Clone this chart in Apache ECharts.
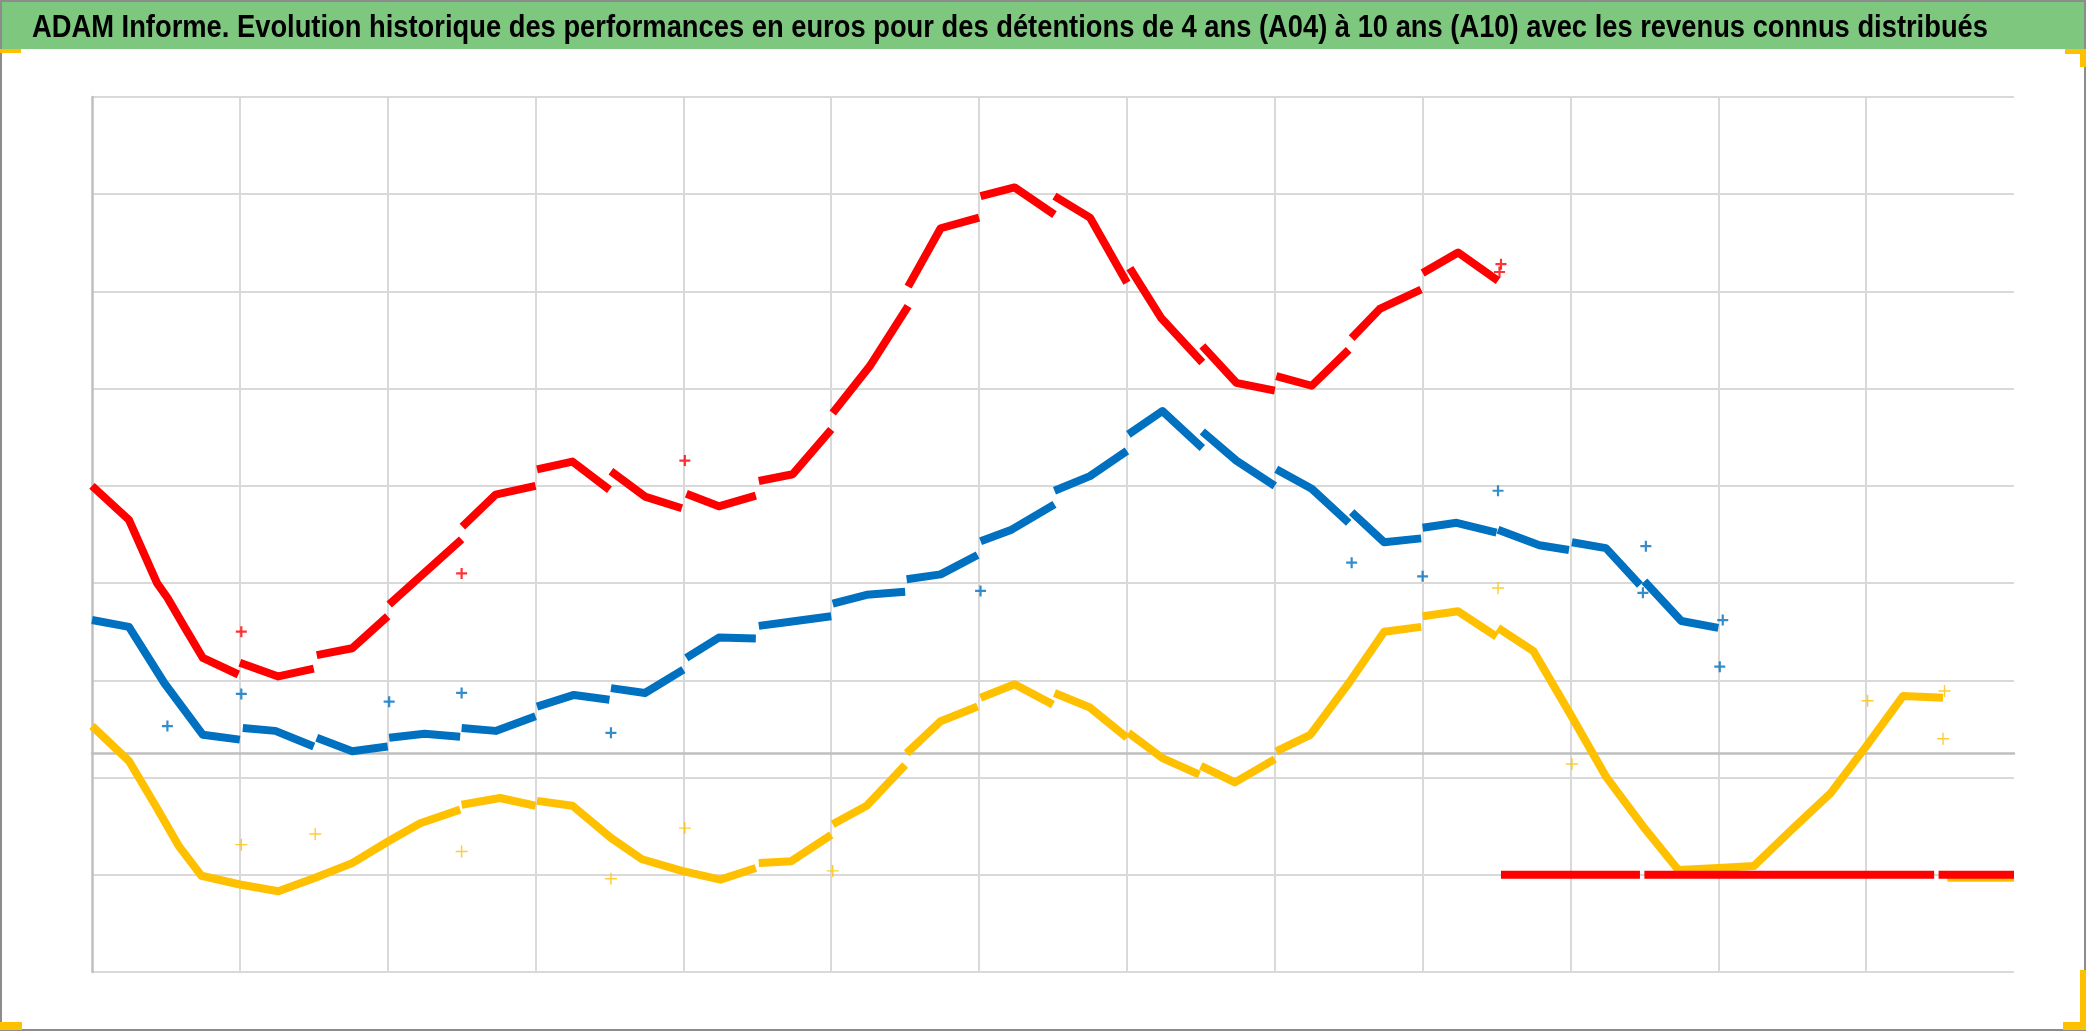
<!DOCTYPE html>
<html><head><meta charset="utf-8">
<script src="https://cdn.jsdelivr.net/npm/echarts@6/dist/echarts.min.js"></script>
<style>html,body{margin:0;padding:0;background:#fff;overflow:hidden}#c{width:2086px;height:1031px}</style>
</head><body><div id="c"></div>
<script>
const titleText = "ADAM Informe. Evolution historique des performances en euros pour des détentions de 4 ans (A04) à 10 ans (A10) avec les revenus connus distribués";
const seriesNames = ["A04", "A07", "A10"];

// Axis ranges (no tick labels are shown on the original)
const xMin = 0, xMax = 13, xStep = 1;
const yMin = -2.25, yMax = 6.75, yStep = 1;

// Red series (A04): segments of the dense "+" band
const redSegments = [
  [[0,2.75],[0.25,2.40],[0.44,1.75],[0.51,1.60],[0.625,1.30],[0.75,0.98],[0.99,0.81]],
  [[1.0,0.93],[1.26,0.79],[1.5,0.87]],
  [[1.52,1.01],[1.76,1.08],[2.0,1.41]],
  [[2.01,1.53],[2.5,2.20]],
  [[2.505,2.33],[2.73,2.66],[3.0,2.75]],
  [[3.01,2.92],[3.25,3.0],[3.5,2.71]],
  [[3.51,2.90],[3.74,2.64],[3.99,2.52]],
  [[4.02,2.67],[4.24,2.54],[4.49,2.65]],
  [[4.51,2.80],[4.74,2.87],[5.0,3.33]],
  [[5.01,3.50],[5.26,3.98],[5.52,4.60]],
  [[5.52,4.80],[5.74,5.40],[6.0,5.51]],
  [[6.01,5.73],[6.24,5.82],[6.51,5.54]],
  [[6.51,5.73],[6.75,5.51],[7.0,4.84]],
  [[7.02,4.99],[7.23,4.48],[7.51,4.02]],
  [[7.51,4.19],[7.74,3.81],[8.0,3.73]],
  [[8.01,3.88],[8.25,3.78],[8.50,4.15]],
  [[8.52,4.27],[8.71,4.57],[8.99,4.77]],
  [[9.0,4.94],[9.24,5.15],[9.51,4.86]],
  [[9.53,-1.25],[10.47,-1.25]],
  [[10.50,-1.25],[12.46,-1.25]],
  [[12.49,-1.25],[13.0,-1.25]]
];
const redOutliers = [[1.01,1.25],[2.5,1.85],[4.01,3.01],[9.53,5.03],[9.52,4.95]];

// Blue series (A07)
const blueSegments = [
  [[0,1.37],[0.25,1.30],[0.49,0.72],[0.75,0.19],[1.0,0.14]],
  [[1.02,0.26],[1.24,0.23],[1.5,0.07]],
  [[1.52,0.16],[1.76,0.02],[2.0,0.07]],
  [[2.01,0.16],[2.25,0.20],[2.49,0.17]],
  [[2.5,0.26],[2.73,0.23],[3.0,0.38]],
  [[3.01,0.48],[3.26,0.60],[3.5,0.55]],
  [[3.51,0.67],[3.74,0.62],[4.0,0.86]],
  [[4.02,0.98],[4.24,1.19],[4.49,1.18]],
  [[4.51,1.31],[4.76,1.36],[5.0,1.41]],
  [[5.01,1.54],[5.24,1.63],[5.5,1.66]],
  [[5.51,1.79],[5.74,1.84],[5.99,2.04]],
  [[6.01,2.18],[6.22,2.30],[6.51,2.56]],
  [[6.51,2.70],[6.75,2.85],[7.0,3.11]],
  [[7.01,3.28],[7.24,3.52],[7.51,3.14]],
  [[7.51,3.31],[7.74,3.01],[8.0,2.75]],
  [[8.01,2.92],[8.25,2.72],[8.50,2.37]],
  [[8.52,2.48],[8.74,2.17],[8.99,2.21]],
  [[9.0,2.32],[9.23,2.37],[9.5,2.27]],
  [[9.51,2.30],[9.79,2.14],[9.99,2.09]],
  [[10.01,2.17],[10.24,2.11],[10.47,1.73]],
  [[10.5,1.77],[10.75,1.36],[11.0,1.29]]
];
const blueOutliers = [[0.51,0.28],[1.01,0.61],[2.01,0.53],[2.5,0.62],[3.51,0.21],[6.01,1.67],[8.52,1.96],[9.0,1.82],[9.51,2.70],[10.51,2.13],[10.49,1.65],[11.01,0.89],[11.03,1.37]];

// Yellow series (A10)
const yellowSegments = [
  [[0,0.28],[0.25,-0.08],[0.43,-0.54],[0.585,-0.95],[0.74,-1.26],[1.0,-1.35],[1.26,-1.42],[1.51,-1.28],[1.76,-1.13],[2.01,-0.90],[2.22,-0.72],[2.49,-0.58]],
  [[2.5,-0.53],[2.76,-0.46],[3.0,-0.54]],
  [[3.01,-0.49],[3.25,-0.54],[3.51,-0.87],[3.72,-1.09],[3.99,-1.21],[4.25,-1.30],[4.49,-1.18]],
  [[4.51,-1.13],[4.73,-1.11],[5.0,-0.84]],
  [[5.01,-0.73],[5.24,-0.54],[5.5,-0.12]],
  [[5.51,0.0],[5.74,0.33],[5.99,0.48]],
  [[6.01,0.57],[6.24,0.71],[6.5,0.50]],
  [[6.51,0.62],[6.75,0.47],[7.0,0.16]],
  [[7.01,0.21],[7.24,-0.05],[7.49,-0.22]],
  [[7.5,-0.13],[7.73,-0.30],[8.0,-0.06]],
  [[8.01,0.02],[8.24,0.19],[8.5,0.72],[8.74,1.25],[8.99,1.30]],
  [[9.0,1.41],[9.24,1.46],[9.5,1.20]],
  [[9.51,1.29],[9.75,1.05],[10.0,0.40],[10.24,-0.24],[10.49,-0.75],[10.73,-1.20],[11.0,-1.18],[11.24,-1.16],[11.5,-0.78],[11.76,-0.41],[12.0,0.07],[12.25,0.59],[12.52,0.57]],
  [[12.55,-1.28],[13.0,-1.28]]
];
const yellowOutliers = [[1.01,-0.94],[1.51,-0.83],[2.5,-1.01],[3.51,-1.29],[4.01,-0.77],[5.01,-1.21],[9.51,1.70],[10.01,-0.11],[12.01,0.54],[12.52,0.15],[12.53,0.64]];

const colors = {A04: "#FF0000", A07: "#0070C0", A10: "#FFC000"};

function joinSegments(segs) {
  const out = [];
  segs.forEach((s, i) => {
    if (i > 0) out.push(["-", "-"]);
    s.forEach(p => out.push(p));
  });
  return out;
}

const plusPath = "path://M4 0h2v4h4v2h-4v4h-2v-4h-4v-2h4z";
const plusThin = "path://M4.4 0h1.2v4.4h4.4v1.2h-4.4v4.4h-1.2v-4.4h-4.4v-1.2h4.4z";

function bandSeries(name, segs, z) {
  return {
    name: name, type: "line", data: joinSegments(segs), showSymbol: false, symbol: "none",
    connectNulls: false, z: z,
    lineStyle: {color: colors[name], width: 8, cap: "butt", join: "round"},
    emphasis: {disabled: true}, animation: false
  };
}
function outlierSeries(name, pts, z, thin) {
  return {
    name: name, type: "scatter", data: pts, symbol: thin ? plusThin : plusPath,
    symbolSize: thin ? 12 : 11, z: z,
    itemStyle: {color: colors[name]}, emphasis: {disabled: true}, animation: false
  };
}

// Title layout: compress text horizontally to match the original condensed bold font
const titleFont = 'bold 31px "Liberation Sans", Arial, sans-serif';
const meas = document.createElement("canvas").getContext("2d");
meas.font = titleFont;
const natW = meas.measureText(titleText).width;
const titleLeft = 32, titleRight = 1988;
const sx = (titleRight - titleLeft) / natW;

const Y = "#FFC000";
const chart = echarts.init(document.getElementById("c"), null, {renderer: "canvas", width: 2086, height: 1031});
chart.setOption({
  animation: false,
  backgroundColor: "#ffffff",
  grid: {left: 92, right: 72, top: 97, bottom: 59, containLabel: false},
  xAxis: {
    type: "value", min: xMin, max: xMax, interval: xStep,
    axisLine: {show: true, onZero: true, lineStyle: {color: "#BFBFBF", width: 2.5}},
    axisTick: {show: false}, axisLabel: {show: false},
    splitLine: {show: true, showMinLine: false, showMaxLine: false, lineStyle: {color: "#D9D9D9", width: 2}}
  },
  yAxis: {
    type: "value", min: yMin, max: yMax, interval: yStep,
    axisLine: {show: true, onZero: false, lineStyle: {color: "#BFBFBF", width: 2.5}},
    axisTick: {show: false}, axisLabel: {show: false},
    splitLine: {show: true, lineStyle: {color: "#D9D9D9", width: 2}}
  },
  series: [
    bandSeries("A10", yellowSegments, 2),
    outlierSeries("A10", yellowOutliers, 2, true),
    bandSeries("A07", blueSegments, 3),
    outlierSeries("A07", blueOutliers, 3, false),
    bandSeries("A04", redSegments, 4),
    outlierSeries("A04", redOutliers, 4, false)
  ],
  graphic: [
    {type: "rect", z: 0, silent: true, shape: {x: 0, y: 0, width: 2086, height: 49}, style: {fill: "#7DC87E"}},
    {type: "text", z: 10, silent: true, x: titleLeft, y: 28, scaleX: sx, scaleY: 1, originX: 0, originY: 0,
     style: {text: titleText, font: titleFont, fill: "#000000", verticalAlign: "middle", textVerticalAlign: "middle", align: "left"}},
    {type: "rect", z: 20, silent: true, shape: {x: 1, y: 1, width: 2084, height: 1029}, style: {fill: "none", stroke: "#8C8C8C", lineWidth: 2}},
    {type: "rect", z: 21, silent: true, shape: {x: 0, y: 49, width: 21, height: 4}, style: {fill: Y}},
    {type: "rect", z: 21, silent: true, shape: {x: 2065, y: 49, width: 21, height: 5}, style: {fill: Y}},
    {type: "rect", z: 21, silent: true, shape: {x: 2080, y: 49, width: 6, height: 18}, style: {fill: Y}},
    {type: "rect", z: 21, silent: true, shape: {x: 0, y: 1022, width: 22, height: 8}, style: {fill: Y}},
    {type: "rect", z: 21, silent: true, shape: {x: 2080, y: 970, width: 6, height: 60}, style: {fill: Y}},
    {type: "rect", z: 21, silent: true, shape: {x: 2063, y: 1022, width: 23, height: 8}, style: {fill: Y}}
  ]
});
</script>
</body></html>
